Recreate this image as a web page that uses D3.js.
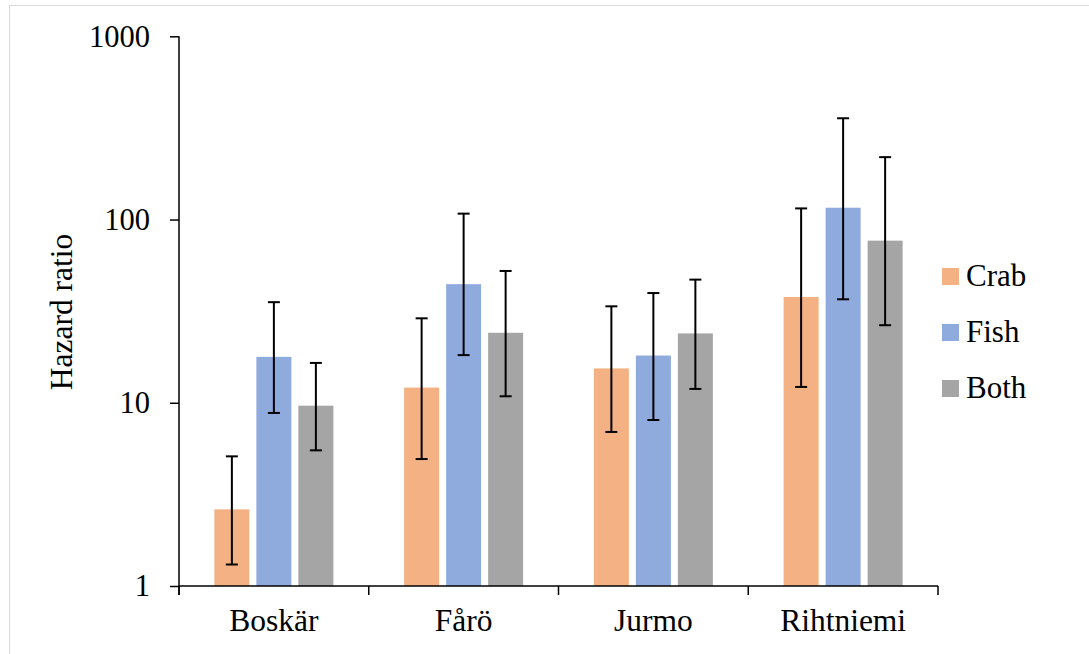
<!DOCTYPE html>
<html>
<head>
<meta charset="utf-8">
<script src="https://cdn.jsdelivr.net/npm/d3@7"></script>
<style>
  html, body { margin: 0; padding: 0; background: #fff; }
  svg { display: block; }
  text { font-family: "Liberation Serif", "Times New Roman", serif; fill: #000; }
</style>
</head>
<body>
<svg id="chart" width="1089" height="654"></svg>
<script>
const categories = ["Boskär", "Fårö", "Jurmo", "Rihtniemi"];
const seriesNames = ["Crab", "Fish", "Both"];
const seriesColors = ["#F4B183", "#8FAADC", "#A5A5A5"];
const crab  = [2.62, 12.1, 15.4, 37.8];
const fish  = [17.8, 44.4, 18.1, 116];
const both  = [9.64, 24.1, 23.9, 76.7];
const crabLow  = [1.31, 4.93, 6.93, 12.2];
const crabHigh = [5.1, 28.9, 33.6, 115];
const fishLow  = [8.8, 18.2, 8.05, 36.7];
const fishHigh = [35.4, 107.7, 39.7, 357];
const bothLow  = [5.5, 10.85, 11.9, 26.5];
const bothHigh = [16.5, 52.4, 47.0, 219];
const yTicks = [1, 10, 100, 1000];

const values = [crab, fish, both];
const lows = [crabLow, fishLow, bothLow];
const highs = [crabHigh, fishHigh, bothHigh];

const svg = d3.select("#chart");

// outer frame
svg.append("rect").attr("x", 9.5).attr("y", 5.5).attr("width", 1200).attr("height", 800)
  .attr("fill", "none").attr("stroke", "#d9d9d9").attr("stroke-width", 1);

const x0 = 179, x1 = 938, yTop = 36.3, yBot = 586;
const x = d3.scaleBand().domain(categories).range([x0, x1]).paddingInner(0).paddingOuter(0);
const y = d3.scaleLog().domain([1, 1000]).range([yBot, yTop]);
const barW = 35, step = 42;

const g = svg.append("g");

seriesNames.forEach((s, si) => {
  categories.forEach((c, ci) => {
    const cx = x(c) + x.bandwidth() / 2 + (si - 1) * step;
    g.append("rect")
      .attr("x", cx - barW / 2).attr("width", barW)
      .attr("y", y(values[si][ci])).attr("height", yBot - y(values[si][ci]))
      .attr("fill", seriesColors[si]);
  });
});

// error bars
seriesNames.forEach((s, si) => {
  categories.forEach((c, ci) => {
    const cx = x(c) + x.bandwidth() / 2 + (si - 1) * step;
    const yl = y(lows[si][ci]), yh = y(highs[si][ci]);
    const eg = g.append("g").attr("stroke", "#000").attr("stroke-width", 2);
    eg.append("line").attr("x1", cx).attr("x2", cx).attr("y1", yl).attr("y2", yh);
    eg.append("line").attr("x1", cx - 6).attr("x2", cx + 6).attr("y1", yl).attr("y2", yl);
    eg.append("line").attr("x1", cx - 6).attr("x2", cx + 6).attr("y1", yh).attr("y2", yh);
  });
});

// y axis
const yAxis = d3.axisLeft(y).tickValues(yTicks).tickFormat(d3.format("d")).tickSize(9).tickPadding(20);
const ya = svg.append("g").attr("transform", `translate(${x0},0)`).call(yAxis);
ya.select(".domain").remove();
ya.selectAll(".tick line").attr("stroke", "#000").attr("stroke-width", 1.5);
ya.selectAll("text").attr("font-size", 30.5).attr("font-family", "Liberation Serif, serif").attr("fill", "#000");
svg.append("line").attr("x1", x0).attr("x2", x0).attr("y1", yTop).attr("y2", 595)
  .attr("stroke", "#000").attr("stroke-width", 1.5);

// x axis
const xAxis = d3.axisBottom(x).tickSize(0).tickPadding(23);
const xa = svg.append("g").attr("transform", `translate(0,${yBot})`).call(xAxis);
xa.select(".domain").remove();
xa.selectAll("text").attr("font-size", 31.5).attr("font-family", "Liberation Serif, serif").attr("fill", "#000");
svg.append("line").attr("x1", x0).attr("x2", x1).attr("y1", yBot).attr("y2", yBot)
  .attr("stroke", "#000").attr("stroke-width", 1.5);
const bounds = categories.map(c => x(c)).concat([x1]);
svg.selectAll(".cattick").data(bounds).enter().append("line")
  .attr("x1", d => d).attr("x2", d => d).attr("y1", yBot).attr("y2", 595)
  .attr("stroke", "#000").attr("stroke-width", 1.5);

// y label
svg.append("text").attr("transform", "translate(72,312) rotate(-90)")
  .attr("text-anchor", "middle").attr("font-size", 31.5).text("Hazard ratio");

// legend
const lg = svg.append("g");
seriesNames.forEach((s, i) => {
  const ly = 268 + i * 56;
  lg.append("rect").attr("x", 942).attr("y", ly).attr("width", 17).attr("height", 17).attr("fill", seriesColors[i]);
  lg.append("text").attr("x", 966).attr("y", ly + 18).attr("font-size", 31).text(s);
});
</script>
</body>
</html>
